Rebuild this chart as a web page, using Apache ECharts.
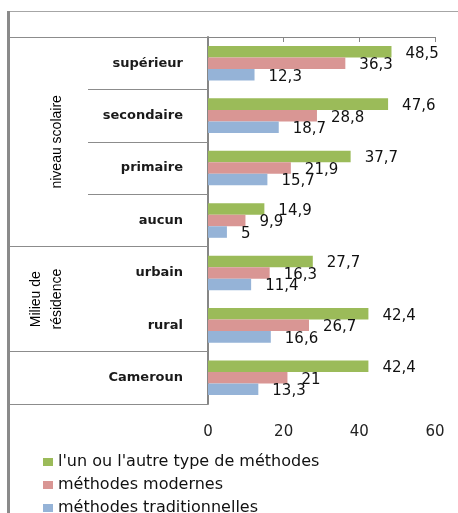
<!DOCTYPE html>
<html>
<head>
<meta charset="utf-8">
<script src="https://cdn.jsdelivr.net/npm/echarts@6/dist/echarts.min.js"></script>
<style>
html,body{margin:0;padding:0;background:#fff;}
#chart{width:458px;height:513px;}
</style>
</head>
<body>
<div id="chart"></div>
<script>
const categories = ['supérieur', 'secondaire', 'primaire', 'aucun', 'urbain', 'rural', 'Cameroun'];
const seriesNames = ["l'un ou l'autre type de méthodes", 'méthodes modernes', 'méthodes traditionnelles'];
const unOuAutre = [48.5, 47.6, 37.7, 14.9, 27.7, 42.4, 42.4];
const modernes = [36.3, 28.8, 21.9, 9.9, 16.3, 26.7, 21];
const traditionnelles = [12.3, 18.7, 15.7, 5, 11.4, 16.6, 13.3];
const xTicks = [0, 20, 40, 60];
// group labels placed at category-position centres of each group
const groupLabels = [
  { pos: 2, text: 'niveau scolaire' },
  { pos: 5, text: 'Milieu de\nrésidence' }
];
const groupStarts = [0, 4, 6];      // category indices where a group begins
const noInnerLineBefore = [5];      // no separator before 'rural'

const colors = ['#9BBB59', '#D99694', '#95B3D7'];
const fmt = v => String(v).replace('.', ',');

const chart = echarts.init(document.getElementById('chart'), null, { renderer: 'canvas' });

function barSeries(name, data, color) {
  return {
    name: name,
    type: 'bar',
    yAxisIndex: 0,
    data: data,
    itemStyle: { color: color },
    barGap: '0%',
    barCategoryGap: '34%',
    label: {
      show: true,
      position: 'right',
      distance: 14,
      offset: [0, 2],
      fontFamily: 'DejaVu Sans',
      fontSize: 15,
      color: '#111',
      formatter: p => fmt(p.value)
    }
  };
}

chart.setOption({
  animation: false,
  backgroundColor: '#fff',
  grid: { left: 208, right: 23, top: 37, bottom: 109 },
  legend: {
    orient: 'vertical',
    left: 38,
    top: 449,
    height: 120,
    itemWidth: 10,
    itemHeight: 8,
    itemGap: 7,
    icon: 'rect',
    textStyle: { fontFamily: 'DejaVu Sans', fontSize: 16, color: '#111' },
    data: seriesNames
  },
  xAxis: {
    type: 'value',
    min: xTicks[0],
    max: xTicks[xTicks.length - 1],
    interval: xTicks[1] - xTicks[0],
    axisLine: { show: true, lineStyle: { color: '#868686', width: 1 } },
    axisTick: { show: true, length: 5, lineStyle: { color: '#868686' } },
    splitLine: { show: false },
    axisLabel: { margin: 21, fontFamily: 'DejaVu Sans', fontSize: 15, color: '#222', formatter: v => fmt(v) }
  },
  yAxis: [
    {
      type: 'category',
      data: categories,
      inverse: true,
      position: 'left',
      axisLine: { show: true, lineStyle: { color: '#868686', width: 2 } },
      axisTick: {
        show: true,
        length: 120,
        interval: (i) => noInnerLineBefore.indexOf(i) < 0,
        lineStyle: { color: '#8c8c8c', width: 1 }
      },
      axisLabel: {
        interval: 0,
        margin: 25,
        fontFamily: 'DejaVu Sans',
        fontWeight: 'bold',
        fontSize: 13,
        color: '#1a1a1a'
      }
    },
    {
      type: 'category',
      data: categories,
      inverse: true,
      position: 'left',
      offset: 0,
      axisLine: { show: false },
      axisTick: {
        show: true,
        length: 198,
        interval: (i) => groupStarts.indexOf(i) >= 0,
        lineStyle: { color: '#8c8c8c', width: 1 }
      },
      axisLabel: { show: false }
    },
    {
      type: 'value',
      min: 0,
      max: categories.length,
      interval: 1,
      inverse: true,
      position: 'left',
      offset: 137,
      axisLine: { show: false },
      axisTick: { show: false },
      splitLine: { show: false },
      axisLabel: {
        rotate: 90,
        margin: 3,
        fontFamily: 'Liberation Sans',
        fontSize: 14,
        lineHeight: 21,
        color: '#000',
        formatter: v => {
          const g = groupLabels.find(x => x.pos === v);
          return g ? g.text : '';
        }
      }
    }
  ],
  graphic: [
    { type: 'line', shape: { x1: 8, y1: 11.5, x2: 458, y2: 11.5 }, style: { stroke: '#a6a6a6', lineWidth: 1 } },
    { type: 'line', shape: { x1: 8.5, y1: 11, x2: 8.5, y2: 513 }, style: { stroke: '#8a8a8a', lineWidth: 3 } }
  ],
  series: [
    barSeries(seriesNames[0], unOuAutre, colors[0]),
    barSeries(seriesNames[1], modernes, colors[1]),
    barSeries(seriesNames[2], traditionnelles, colors[2])
  ]
});
</script>
</body>
</html>
